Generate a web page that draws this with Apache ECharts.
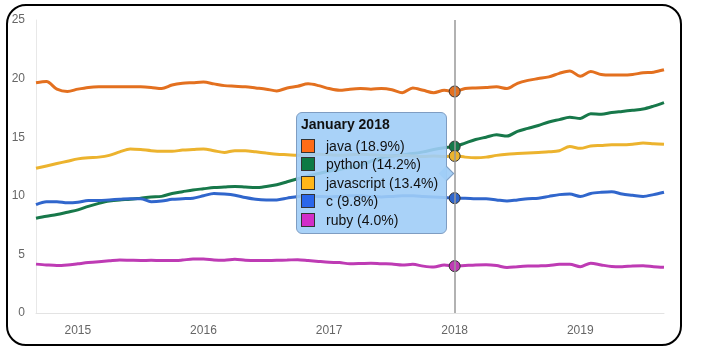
<!DOCTYPE html>
<html>
<head>
<meta charset="utf-8">
<script src="https://cdn.jsdelivr.net/npm/echarts@6/dist/echarts.min.js"></script>
<style>
  html, body { margin: 0; padding: 0; background: #fff; }
  #frame {
    position: absolute; left: 6px; top: 4px;
    width: 672px; height: 338px;
    border: 2.5px solid #000; border-radius: 20px;
  }
  #chart { position: absolute; left: 0; top: 0; width: 701px; height: 354px; }
</style>
</head>
<body>
<div id="frame"></div>
<div id="chart"></div>
<script>
  // monthly samples, Sep 2014 .. Sep 2019
  var startYear = 2014, startMonth = 9, monthCount = 61;
  var monthNames = ['January','February','March','April','May','June','July','August','September','October','November','December'];
  var months = [];
  for (var i = 0; i < monthCount; i++) {
    var m = startMonth - 1 + i;
    months.push((startYear + Math.floor(m / 12)) + '-' + ('0' + (m % 12 + 1)).slice(-2));
  }

  var java = [19.65,19.75,19.1,18.9,19.1,19.25,19.3,19.3,19.3,19.3,19.3,19.25,19.15,19.45,19.6,19.65,19.7,19.55,19.4,19.35,
    19.3,19.2,19.1,18.95,19.2,19.35,19.55,19.4,19.15,19.0,19.1,19.15,19.1,19.15,19.05,18.8,19.2,19.0,18.8,19.0,
    18.9,19.15,19.2,19.25,19.3,19.15,19.6,19.85,20.0,20.15,20.45,20.65,20.2,20.6,20.35,20.3,20.3,20.35,20.5,20.55,20.75];
  var python = [8.08,8.25,8.4,8.6,8.8,9.1,9.35,9.55,9.65,9.7,9.8,9.9,9.95,10.2,10.35,10.5,10.6,10.7,10.75,10.8,
    10.75,10.7,10.8,10.95,11.2,11.45,11.7,11.9,12.1,12.25,12.45,12.6,12.95,13.25,13.4,13.5,13.6,13.75,13.95,14.1,
    14.2,14.5,14.8,15.0,15.2,15.1,15.5,15.75,16.0,16.3,16.5,16.7,16.6,17.0,16.95,17.1,17.2,17.3,17.4,17.65,17.95];
  var javascript = [12.35,12.55,12.75,12.95,13.15,13.25,13.3,13.45,13.75,14.0,13.95,13.85,13.8,13.8,13.9,13.95,14.0,13.85,13.7,13.85,
    13.85,13.75,13.65,13.55,13.5,13.45,13.5,13.55,13.5,13.45,13.5,13.55,13.5,13.45,13.4,13.45,13.4,13.35,13.4,13.35,
    13.4,13.3,13.25,13.3,13.45,13.55,13.6,13.65,13.7,13.75,13.85,14.2,14.05,14.25,14.3,14.35,14.35,14.4,14.5,14.45,14.4];
  var c = [9.25,9.5,9.5,9.4,9.45,9.6,9.6,9.65,9.7,9.75,9.75,9.5,9.55,9.7,9.75,9.8,10.0,10.2,10.15,10.05,
    9.85,9.7,9.65,9.65,9.8,9.95,10.0,9.95,9.9,9.95,10.0,10.0,9.95,9.9,9.95,10.0,10.0,9.95,9.9,9.85,
    9.8,9.8,9.75,9.75,9.65,9.55,9.65,9.75,9.8,9.95,10.1,10.15,9.95,10.2,10.3,10.35,10.15,10.05,9.95,10.1,10.3];
  var ruby = [4.17,4.1,4.05,4.1,4.2,4.3,4.38,4.45,4.52,4.5,4.48,4.5,4.47,4.47,4.52,4.6,4.6,4.52,4.5,4.58,
    4.5,4.47,4.48,4.5,4.52,4.55,4.48,4.4,4.33,4.3,4.2,4.22,4.25,4.2,4.18,4.1,4.15,4.0,3.92,4.1,
    4.0,4.05,4.1,4.12,4.05,3.88,3.95,4.0,4.02,4.05,4.15,4.15,3.95,4.25,4.1,3.97,3.95,4.02,4.03,3.95,3.9];

  var seriesNames = ['java', 'python', 'javascript', 'c', 'ruby'];
  var seriesData = [java, python, javascript, c, ruby];
  var lineColors = ['#e3701f', '#17784a', '#ecb32e', '#3066cc', '#be3bb4'];
  var swatchColors = ['#ff6c17', '#0b7a45', '#ffb619', '#2a66ea', '#d22dc8'];
  var focusIndex = 40; // January 2018

  var chart = echarts.init(document.getElementById('chart'));

  var series = seriesNames.map(function (name, k) {
    return {
      name: name,
      type: 'line',
      data: seriesData[k],
      smooth: 0.3,
      showSymbol: false,
      symbol: 'circle',
      symbolSize: 11,
      color: lineColors[k],
      lineStyle: { width: 3, color: lineColors[k] },
      itemStyle: { color: lineColors[k], borderColor: '#333', borderWidth: 1 },
      emphasis: {
        scale: false,
        lineStyle: { width: 3, color: lineColors[k] },
        itemStyle: { color: lineColors[k], borderColor: '#333', borderWidth: 1 }
      },
      animation: false
    };
  });

  chart.setOption({
    animation: false,
    grid: { left: 36, right: 37, top: 20, bottom: 41 },
    xAxis: {
      type: 'category',
      data: months,
      boundaryGap: false,
      axisLine: { lineStyle: { color: '#e3e3e3' } },
      axisTick: { show: false },
      axisLabel: {
        interval: function (idx, val) { return val.slice(5) === '01'; },
        formatter: function (val) { return val.slice(0, 4); },
        color: '#666', fontSize: 12, margin: 12,
        fontFamily: 'Liberation Sans, Arial, sans-serif'
      },
      splitLine: { show: false }
    },
    yAxis: {
      type: 'value',
      min: 0, max: 25, interval: 5,
      axisLine: { show: true, lineStyle: { color: '#e8e8e8' } },
      axisTick: { show: false },
      splitLine: { show: false },
      axisLabel: { color: '#666', fontSize: 12, margin: 11, fontFamily: 'Liberation Sans, Arial, sans-serif' }
    },
    tooltip: {
      trigger: 'axis',
      triggerOn: 'none',
      alwaysShowContent: true,
      transitionDuration: 0,
      showDelay: 0,
      axisPointer: { type: 'line', lineStyle: { color: '#999', width: 1.5, type: 'solid' }, animation: false },
      position: [296, 112],
      padding: [2, 8, 4, 4],
      backgroundColor: 'rgba(160,205,247,0.9)',
      borderColor: '#7f9dc2',
      borderWidth: 1,
      extraCssText: 'border-radius:6px;box-shadow:none;',
      textStyle: { color: '#111', fontSize: 14, fontFamily: 'Liberation Sans, Arial, sans-serif' },
      formatter: function (params) {
        var idx = params[0].dataIndex;
        var ym = months[idx].split('-');
        var html = '<div style="font-weight:bold;line-height:18px;margin-bottom:4px;">' +
          monthNames[+ym[1] - 1] + ' ' + ym[0] + '</div>';
        seriesNames.forEach(function (name, k) {
          html += '<div style="line-height:18.4px;white-space:nowrap;">' +
            '<span style="display:inline-block;width:12px;height:12px;vertical-align:-2px;margin-right:11px;' +
            'background:' + swatchColors[k] + ';border:1px solid #333;"></span>' +
            name + ' (' + seriesData[k][idx].toFixed(1) + '%)</div>';
        });
        html += '<div style="position:absolute;right:-6px;top:55px;width:10px;height:10px;transform:rotate(45deg);' +
          'background:rgba(160,205,247,0.95);border-top:1px solid #7f9dc2;border-right:1px solid #7f9dc2;"></div>';
        return html;
      }
    },
    series: series
  });

  chart.dispatchAction({ type: 'showTip', seriesIndex: 0, dataIndex: focusIndex });
</script>
</body>
</html>
